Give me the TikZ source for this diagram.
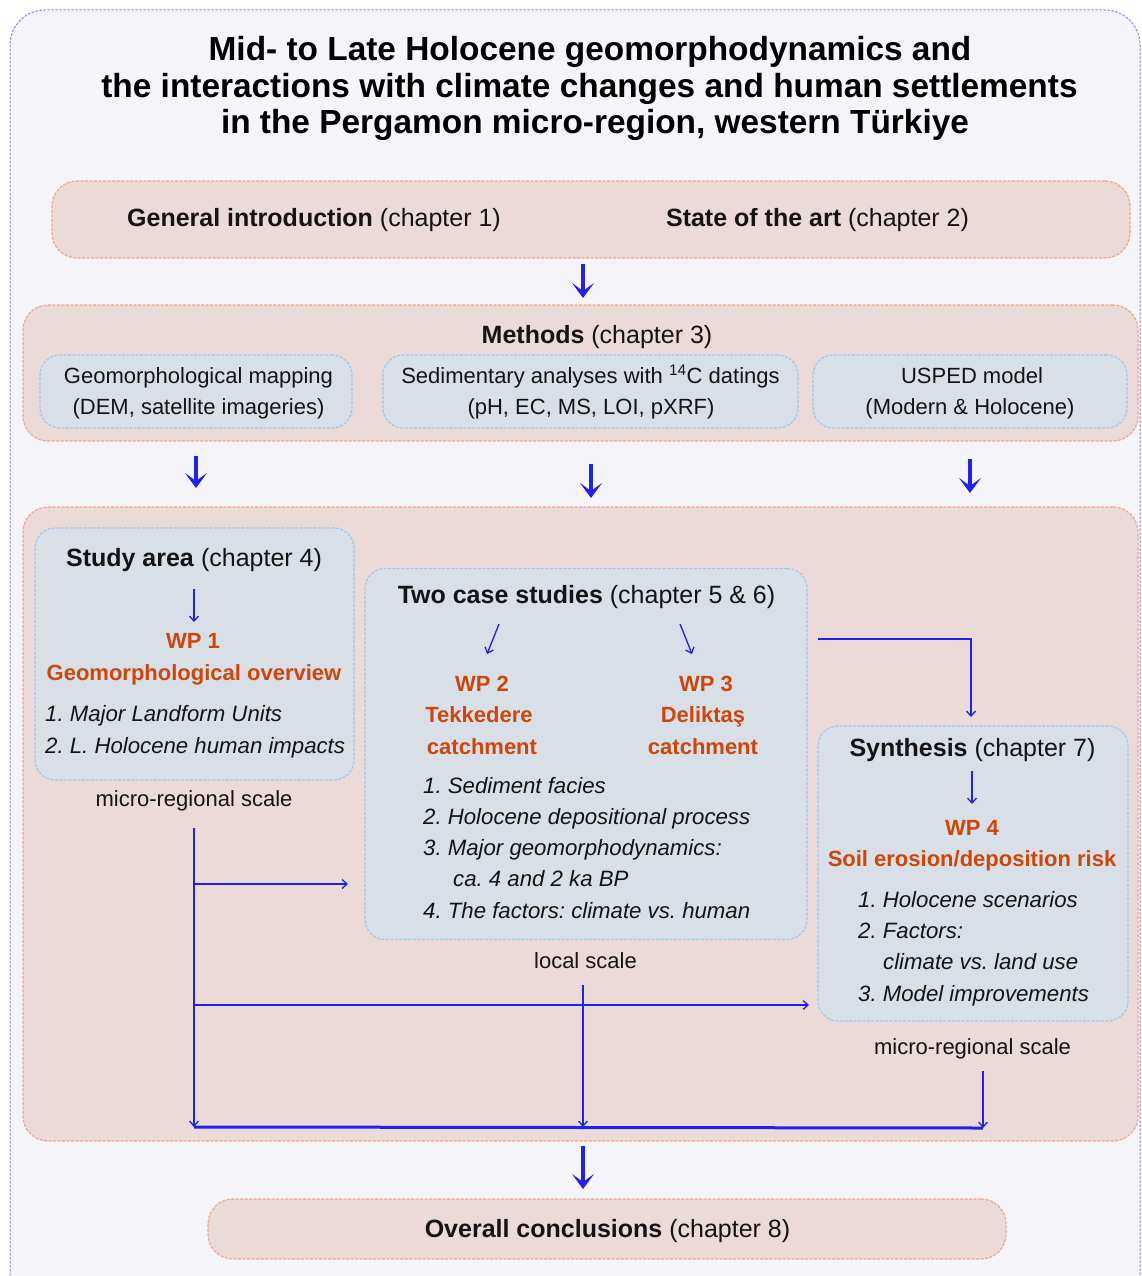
\documentclass[tikz,border=0pt]{standalone}
\usepackage{fontspec}
\setmainfont{Liberation Sans}
\usetikzlibrary{arrows.meta}
\frenchspacing
\definecolor{bgc}{HTML}{F4F4F9}
\definecolor{outerc}{HTML}{8F86F2}
\definecolor{pinkf}{HTML}{EADBD8}
\definecolor{pinkd}{HTML}{F2A58A}
\definecolor{bluef}{HTML}{D8DFE7}
\definecolor{blued}{HTML}{9DC7EE}
\definecolor{arrc}{HTML}{2020F0}
\definecolor{wpc}{RGB}{205,70,10}
\definecolor{txtc}{HTML}{141414}
\tikzset{
  outerbox/.style={draw=outerc,fill=bgc,line width=1pt,dash pattern=on 2.5pt off 1.5pt,rounded corners=35pt},
  pinkbox/.style={draw=pinkd,fill=pinkf,line width=1.2pt,dash pattern=on 3pt off 1.5pt,rounded corners=25pt,inner sep=0pt},
  bluebox/.style={draw=blued,fill=bluef,line width=1.2pt,dash pattern=on 3pt off 1.5pt,rounded corners=20pt,inner sep=0pt},
  ttl/.style={font=\frenchspacing\bfseries\fontsize{33.4}{37}\selectfont,anchor=base,inner sep=0pt,text=black},
  hd/.style={font=\frenchspacing\fontsize{25}{30}\selectfont,anchor=base,inner sep=0pt,text=txtc},
  tx/.style={font=\frenchspacing\fontsize{22}{26}\selectfont,anchor=base,inner sep=0pt,text=txtc},
  wp/.style={font=\frenchspacing\bfseries\fontsize{22}{26}\selectfont,anchor=base,inner sep=0pt,text=wpc},
  lst/.style={font=\frenchspacing\itshape\fontsize{22.2}{26}\selectfont,anchor=base west,inner sep=0pt,text=txtc},
  bigarrow/.style={draw=arrc,line width=3.5pt,-{Stealth[length=15pt,width=22pt,inset=8pt]}},
  thinarrow/.style={draw=arrc,line width=1.3pt,-{Straight Barb[length=5pt,width=9pt,line width=1.3pt]}},
  thickline/.style={draw=arrc,line width=3pt},
}
\begin{document}
\begin{tikzpicture}[x=1pt,y=-1pt]
\useasboundingbox (0,0) rectangle (1142,1276);
\clip (0,0) rectangle (1142,1276);
\fill[white] (0,0) rectangle (1142,1276);
\path[outerbox] (10,10) rectangle (1140,1310);
% title
\node[ttl] (t1) at (590,61) {Mid- to Late Holocene geomorphodynamics and};
\node[ttl] (t2) at (589.5,97.5) {the interactions with climate changes and human settlements};
\node[ttl] (t3) at (595,134) {in the Pergamon micro-region, western Türkiye};
% intro box
\node[pinkbox,minimum width=1078pt,minimum height=77pt] (intro) at (591,219.5) {};
\node[hd] (gi) at (314,226) {\textbf{General introduction} (chapter 1)};
\node[hd] (sa) at (817.5,226) {\textbf{State of the art} (chapter 2)};
% methods
\node[pinkbox,minimum width=1115pt,minimum height=136pt] (meth) at (580.5,373) {};
\node[hd] (mh) at (597,343) {\textbf{Methods} (chapter 3)};
\node[bluebox,minimum width=312pt,minimum height=73pt] (geo) at (196,391.5) {};
\node[bluebox,minimum width=415pt,minimum height=73pt] (sed) at (590.5,391.5) {};
\node[bluebox,minimum width=314pt,minimum height=73pt] (usp) at (970,391.5) {};
\node[tx] (g1) at (198.5,383) {Geomorphological mapping};
\node[tx] (g2) at (198.5,414) {(DEM, satellite imageries)};
\node[tx] (s1) at (590.5,383) {Sedimentary analyses with \textsuperscript{14}C datings};
\node[tx] (s2) at (591,414) {(pH, EC, MS, LOI, pXRF)};
\node[tx] (u1) at (972,383) {USPED model};
\node[tx] (u2) at (970,414) {(Modern \& Holocene)};
% arrows between top boxes
\coordinate (a1s) at (583,264); \coordinate (a1e) at (583,298);
\draw[bigarrow] (a1s) -- (a1e);
\coordinate (a2s) at (196,456); \coordinate (a2e) at (196,488);
\coordinate (a3s) at (591,464); \coordinate (a3e) at (591,498);
\coordinate (a4s) at (970,459); \coordinate (a4e) at (970,493);
\draw[bigarrow] (a2s) -- (a2e);
\draw[bigarrow] (a3s) -- (a3e);
\draw[bigarrow] (a4s) -- (a4e);
% big box
\node[pinkbox,minimum width=1115pt,minimum height=634pt] (big) at (580.5,824) {};
% study area
\node[bluebox,minimum width=319pt,minimum height=252pt] (study) at (194.5,654) {};
\node[hd] (sah) at (194,566) {\textbf{Study area} (chapter 4)};
\coordinate (sa1) at (194,589); \coordinate (sa2) at (194,622);
\draw[thinarrow] (sa1) -- (sa2);
\node[wp] (wp1) at (193,648) {WP 1};
\node[wp] (wp1b) at (194,680) {Geomorphological overview};
\node[lst] (l11) at (45,721) {1. Major Landform Units};
\node[lst] (l12) at (45,753) {2. L. Holocene human impacts};
\node[tx] (mr1) at (194,806) {micro-regional scale};
% two case studies
\node[bluebox,minimum width=442pt,minimum height=371pt] (two) at (586,754) {};
\node[hd] (tch) at (586.5,603) {\textbf{Two case studies} (chapter 5 \& 6)};
\coordinate (c1s) at (499,624); \coordinate (c1e) at (487,654);
\coordinate (c2s) at (680,624); \coordinate (c2e) at (692,654);
\draw[thinarrow] (c1s) -- (c1e);
\draw[thinarrow] (c2s) -- (c2e);
\node[wp] (wp2) at (482,691) {WP 2};
\node[wp] (wp2b) at (479,722) {Tekkedere};
\node[wp] (wp2c) at (482,754) {catchment};
\node[wp] (wp3) at (706,691) {WP 3};
\node[wp] (wp3b) at (703,722) {Deliktaş};
\node[wp] (wp3c) at (703,754) {catchment};
\node[lst] (l21) at (423,793) {1. Sediment facies};
\node[lst] (l22) at (423,824) {2. Holocene depositional process};
\node[lst] (l23) at (423,855) {3. Major geomorphodynamics:};
\node[lst] (l24) at (453,886) {ca. 4 and 2 ka BP};
\node[lst] (l25) at (423,918) {4. The factors: climate vs. human};
\node[tx] (ls) at (585.5,968) {local scale};
% synthesis
\node[bluebox,minimum width=310pt,minimum height=295pt] (syn) at (973,873.5) {};
\node[hd] (syh) at (972.5,756) {\textbf{Synthesis} (chapter 7)};
\coordinate (y1) at (972,771); \coordinate (y2) at (972,804);
\draw[thinarrow] (y1) -- (y2);
\node[wp] (wp4) at (972,835) {WP 4};
\node[wp] (wp4b) at (972,866) {Soil erosion/deposition risk};
\node[lst] (l31) at (858,907) {1. Holocene scenarios};
\node[lst] (l32) at (858,938) {2. Factors:};
\node[lst] (l33) at (883,969) {climate vs. land use};
\node[lst] (l34) at (858,1001) {3. Model improvements};
\node[tx] (mr2) at (972.5,1054) {micro-regional scale};
% connectors
\coordinate (tw1) at (818,639); \coordinate (tw2) at (971,639); \coordinate (tw3) at (971,717);
\draw[thinarrow] (tw1) -- (tw2) -- (tw3);
\coordinate (v1s) at (194,828); \coordinate (v1e) at (194,1127);
\draw[thinarrow] (v1s) -- (v1e);
\coordinate (b1s) at (194,884); \coordinate (b1e) at (348,884);
\draw[thinarrow] (b1s) -- (b1e);
\coordinate (b2s) at (194,1005); \coordinate (b2e) at (809,1005);
\draw[thinarrow] (b2s) -- (b2e);
\coordinate (v2s) at (583,985); \coordinate (v2e) at (583,1127);
\draw[thinarrow] (v2s) -- (v2e);
\coordinate (v3s) at (983,1071); \coordinate (v3e) at (983,1128);
\draw[thinarrow] (v3s) -- (v3e);
\draw[thickline] (v1e) -- (v3e);
% conclusions
\coordinate (a5s) at (583,1146); \coordinate (a5e) at (583,1189);
\draw[bigarrow] (a5s) -- (a5e);
\node[pinkbox,minimum width=798pt,minimum height=60pt] (conc) at (607,1229) {};
\node[hd] (ch) at (607.5,1237) {\textbf{Overall conclusions} (chapter 8)};
\end{tikzpicture}
\end{document}
